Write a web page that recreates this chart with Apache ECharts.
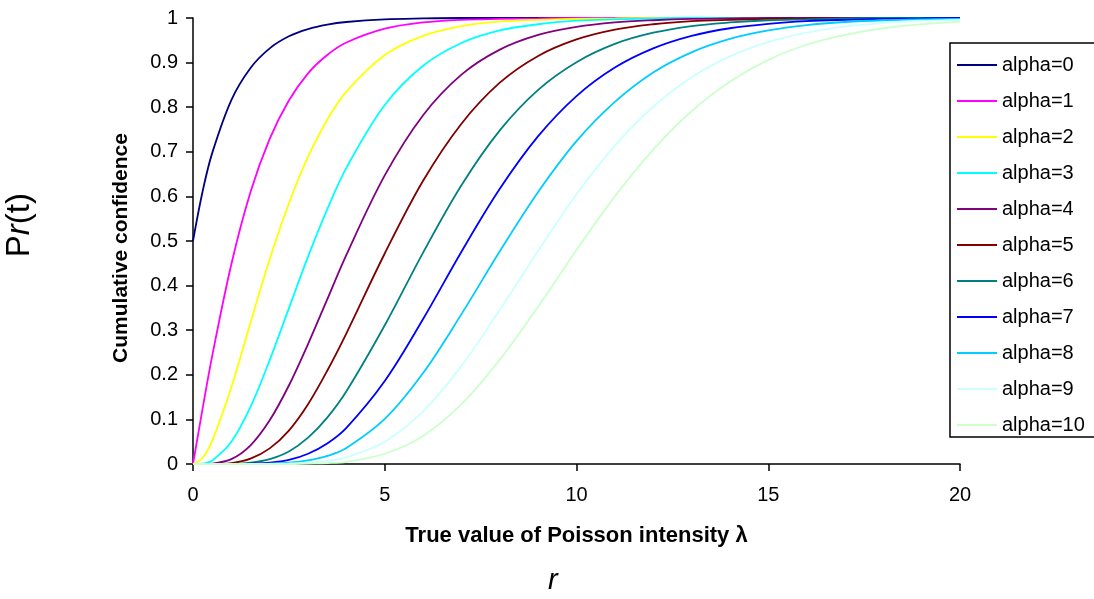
<!DOCTYPE html>
<html>
<head>
<meta charset="utf-8">
<title>Cumulative confidence</title>
<script src="https://cdn.jsdelivr.net/npm/echarts@6/dist/echarts.min.js"></script>
<style>
    html, body { margin: 0; padding: 0; background: #fff; }
    #container { width: 1094px; height: 599px; }
</style>
</head>
<body>
<div id="container"></div>
<script>
"use strict";

// x grid (true value of Poisson intensity)
const xValues = [0, 0.25, 0.5, 1, 1.5, 2, 2.5, 3, 3.5, 4, 5, 6, 7, 8, 9, 10, 11, 12, 13, 14, 15, 16, 17, 18, 19, 20];

// cumulative confidence
const alpha0  = [0.5, 0.611, 0.697, 0.816, 0.888, 0.932, 0.959, 0.975, 0.985, 0.991, 0.997, 0.999, 1, 1, 1, 1, 1, 1, 1, 1, 1, 1, 1, 1, 1, 1];
const alpha1  = [0, 0.124, 0.242, 0.448, 0.610, 0.729, 0.815, 0.876, 0.917, 0.945, 0.976, 0.990, 0.996, 0.998, 0.999, 1, 1, 1, 1, 1, 1, 1, 1, 1, 1, 1];
const alpha2  = [0, 0.014, 0.052, 0.172, 0.317, 0.459, 0.584, 0.689, 0.772, 0.835, 0.917, 0.960, 0.982, 0.992, 0.996, 0.998, 0.999, 1, 1, 1, 1, 1, 1, 1, 1, 1];
const alpha3  = [0, 0.001, 0.008, 0.050, 0.128, 0.233, 0.349, 0.465, 0.571, 0.664, 0.805, 0.893, 0.944, 0.972, 0.986, 0.994, 0.997, 0.999, 1, 1, 1, 1, 1, 1, 1, 1];
const alpha4  = [0, 0, 0.001, 0.011, 0.042, 0.098, 0.176, 0.269, 0.369, 0.469, 0.647, 0.782, 0.873, 0.929, 0.962, 0.980, 0.990, 0.995, 0.998, 0.999, 1, 1, 1, 1, 1, 1];
const alpha5  = [0, 0, 0, 0.002, 0.012, 0.035, 0.075, 0.134, 0.209, 0.293, 0.472, 0.635, 0.763, 0.855, 0.915, 0.952, 0.974, 0.986, 0.993, 0.996, 0.998, 0.999, 1, 1, 1, 1];
const alpha6  = [0, 0, 0, 0, 0.003, 0.011, 0.028, 0.059, 0.104, 0.163, 0.311, 0.474, 0.625, 0.748, 0.839, 0.901, 0.942, 0.967, 0.982, 0.990, 0.995, 0.997, 0.999, 1, 1, 1];
const alpha7  = [0, 0, 0, 0, 0.001, 0.003, 0.009, 0.023, 0.046, 0.081, 0.186, 0.325, 0.476, 0.617, 0.735, 0.825, 0.889, 0.932, 0.960, 0.977, 0.987, 0.993, 0.996, 0.998, 0.999, 1];
const alpha8  = [0, 0, 0, 0, 0, 0.001, 0.003, 0.008, 0.018, 0.036, 0.101, 0.204, 0.336, 0.477, 0.610, 0.724, 0.812, 0.878, 0.923, 0.953, 0.972, 0.984, 0.991, 0.995, 0.997, 0.998];
const alpha9  = [0, 0, 0, 0, 0, 0, 0.001, 0.003, 0.007, 0.015, 0.050, 0.118, 0.220, 0.346, 0.478, 0.605, 0.714, 0.801, 0.867, 0.914, 0.946, 0.967, 0.981, 0.989, 0.994, 0.996];
const alpha10 = [0, 0, 0, 0, 0, 0, 0, 0.001, 0.002, 0.005, 0.023, 0.063, 0.134, 0.234, 0.353, 0.480, 0.600, 0.705, 0.791, 0.857, 0.906, 0.940, 0.962, 0.977, 0.986, 0.992];

const seriesNames = ['alpha=0', 'alpha=1', 'alpha=2', 'alpha=3', 'alpha=4', 'alpha=5',
                     'alpha=6', 'alpha=7', 'alpha=8', 'alpha=9', 'alpha=10'];
const seriesValues = [alpha0, alpha1, alpha2, alpha3, alpha4, alpha5, alpha6, alpha7, alpha8, alpha9, alpha10];
const seriesColors = ['#000080', '#FF00FF', '#FFFF00', '#00FFFF', '#800080', '#800000',
                      '#008080', '#0000FF', '#00CCFF', '#CCFFFF', '#CCFFCC'];

const FONT = "'Liberation Sans', Arial, sans-serif";

let myChart = echarts.init(document.getElementById('container'));

let series = seriesNames.map(function (name, i) {
    return {
        name: name,
        type: 'line',
        data: xValues.map(function (x, j) { return [x, seriesValues[i][j]]; }),
        symbol: 'none',
        smooth: 0.35,
        lineStyle: { color: seriesColors[i], width: 1.8 },
        itemStyle: { color: seriesColors[i] }
    };
});

let option = {
    backgroundColor: '#fff',
    animation: false,
    textStyle: { fontFamily: FONT, color: '#000' },
    grid: { left: 193, top: 18, width: 767, height: 446, containLabel: false },
    xAxis: {
        type: 'value',
        min: 0,
        max: 20,
        interval: 5,
        name: 'True value of Poisson intensity \u03bb',
        nameLocation: 'middle',
        nameGap: 61,
        nameTextStyle: { fontFamily: FONT, fontWeight: 'bold', fontSize: 22, color: '#000' },
        axisLine: { lineStyle: { color: '#000', width: 1.5 } },
        axisTick: { inside: false, length: 7, lineStyle: { color: '#000', width: 1.5 } },
        axisLabel: { margin: 21, fontFamily: FONT, fontSize: 20, color: '#000' },
        splitLine: { show: false }
    },
    yAxis: {
        type: 'value',
        min: 0,
        max: 1,
        interval: 0.1,
        name: 'Cumulative confidence',
        nameLocation: 'middle',
        nameGap: 61,
        nameTextStyle: {
            fontFamily: FONT, fontWeight: 'bold', fontSize: 21, color: '#000',
            padding: [0, 14, 0, 0]
        },
        axisLine: { lineStyle: { color: '#000', width: 1.5 } },
        axisTick: { inside: false, length: 7, lineStyle: { color: '#000', width: 1.5 } },
        axisLabel: {
            margin: 15, fontFamily: FONT, fontSize: 20, color: '#000',
            formatter: function (v) { return String(Math.round(v * 10) / 10); }
        },
        splitLine: { show: false }
    },
    legend: {
        orient: 'vertical',
        left: 950,
        top: 43,
        width: 143,
        padding: [12, 40, 2, 7],
        icon: 'path://M0,0 H40 V2 H0 Z',
        itemWidth: 40,
        itemHeight: 16,
        itemGap: 16,
        borderColor: '#000',
        borderWidth: 1.5,
        backgroundColor: '#fff',
        textStyle: { fontFamily: FONT, fontSize: 20, color: '#000' },
        data: seriesNames
    },
    graphic: [
        {
            type: 'text',
            left: 3,
            top: 193,
            rotation: Math.PI / 2,
            originX: 0,
            style: {
                text: '{n|P}{i|r}{n|(t)}',
                rich: {
                    n: { fontFamily: FONT, fontSize: 33, fill: '#000' },
                    i: { fontFamily: FONT, fontSize: 33, fontStyle: 'italic', fill: '#000' }
                }
            }
        },
        {
            type: 'text',
            left: 548,
            top: 566,
            style: { text: 'r', fontFamily: FONT, fontSize: 29, fontStyle: 'italic', fill: '#000' }
        }
    ],
    series: series
};

myChart.setOption(option);

window.addEventListener('resize', function () {
    myChart.resize();
});
</script>
</body>
</html>
